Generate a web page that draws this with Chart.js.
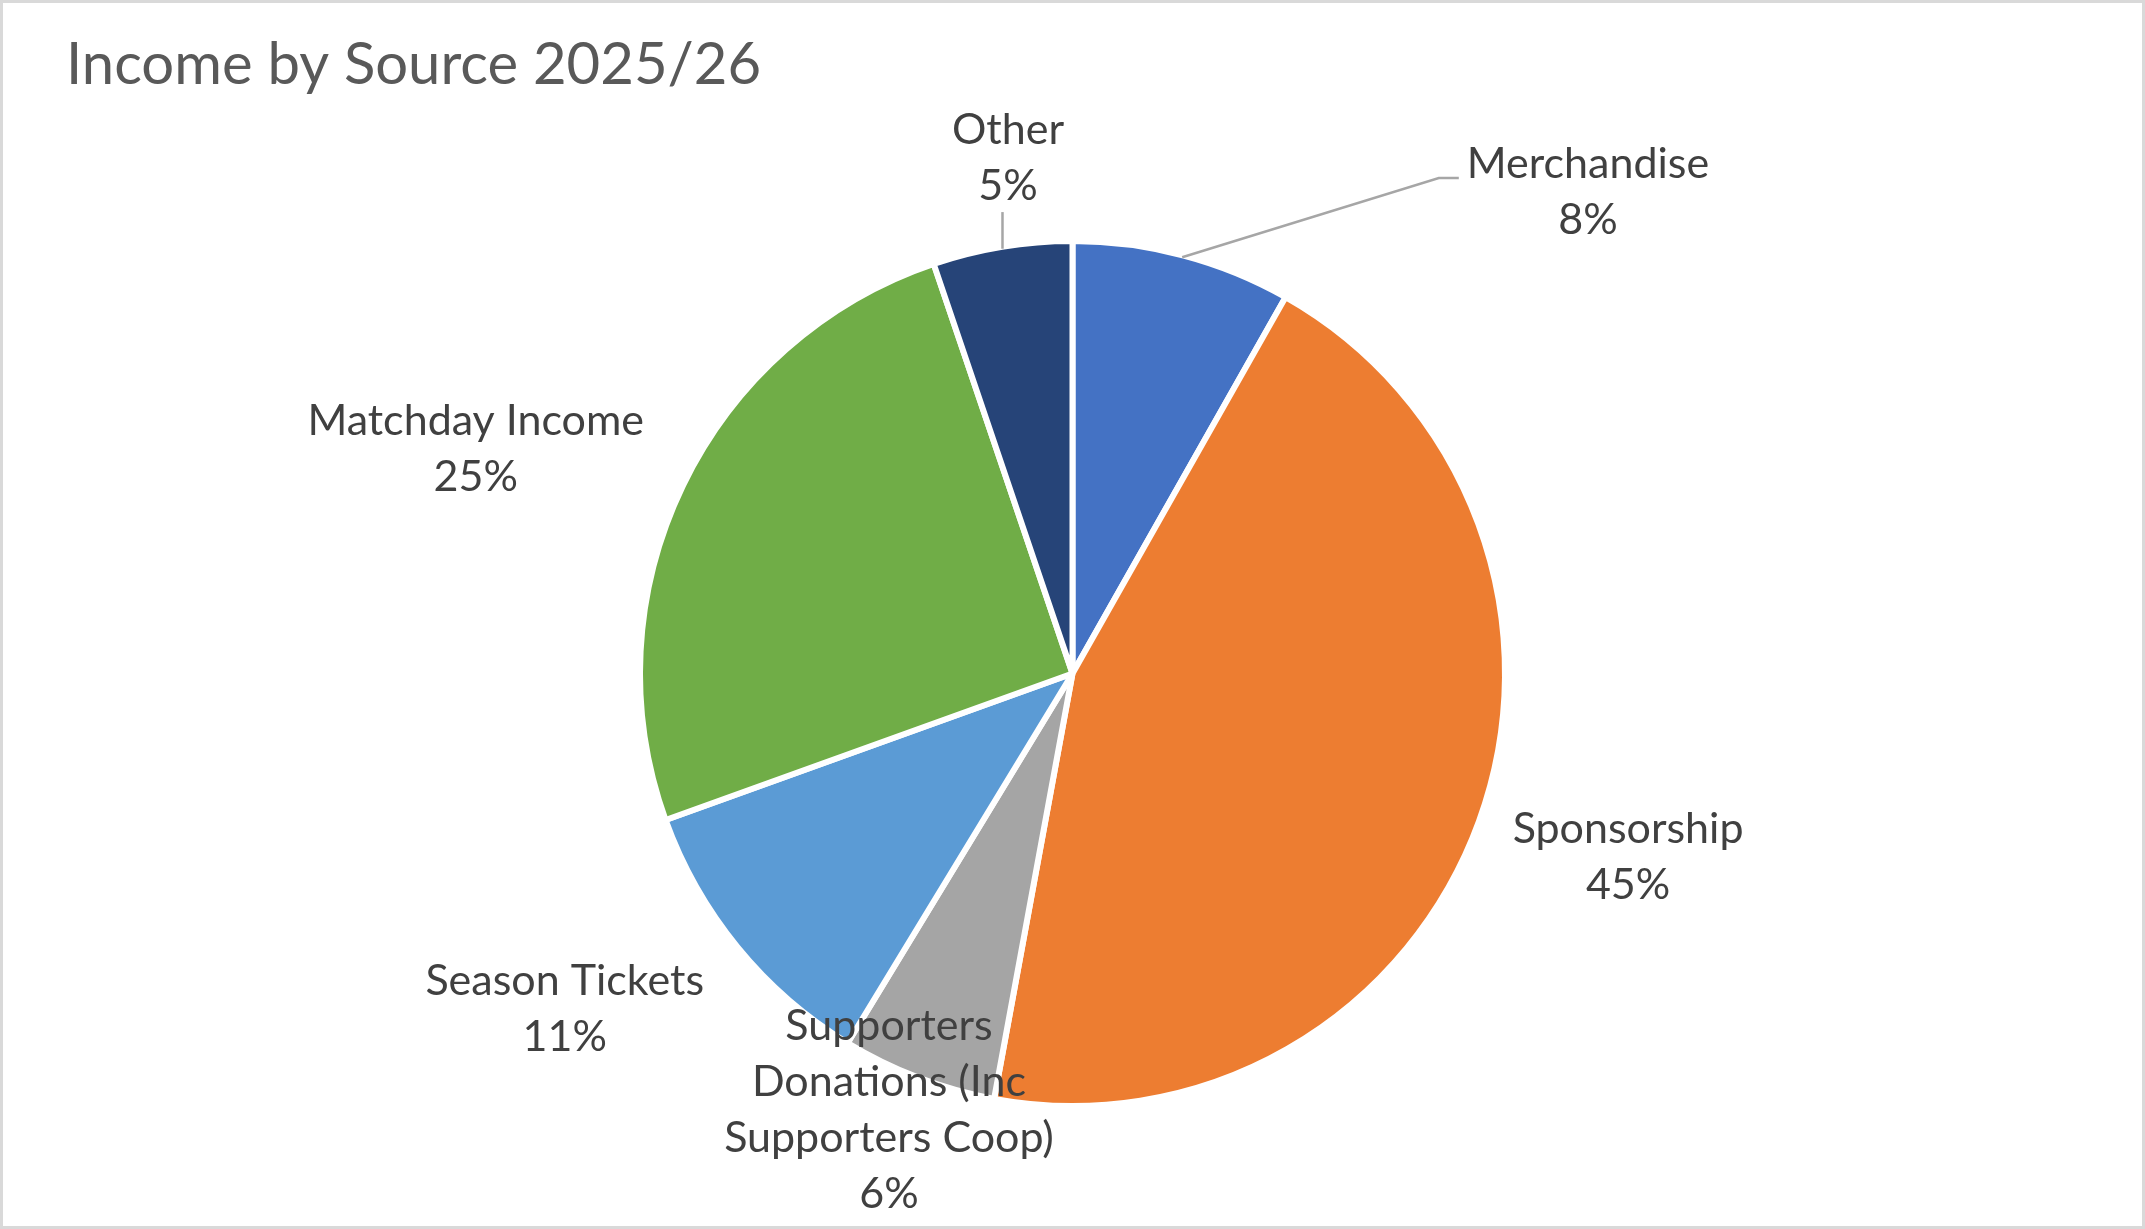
<!DOCTYPE html>
<html>
<head>
<meta charset="utf-8">
<script src="https://cdn.jsdelivr.net/npm/chart.js@4.4.1/dist/chart.umd.min.js"></script>
<style>
  html, body { margin: 0; padding: 0; background: #fff; }
  #wrap { position: relative; width: 2145px; height: 1229px; }
</style>
</head>
<body>
<div id="wrap"><canvas id="pie"></canvas></div>
<script>
// Datos
const titulo = 'Income by Source 2025/26';
const categorias = ['Merchandise', 'Sponsorship', 'Supporters Donations (Inc Supporters Coop)', 'Season Tickets', 'Matchday Income', 'Other'];
const valores = [8.2, 44.7, 5.8, 10.8, 25.3, 5.2];
const colores = ['#4472C4', '#ED7D31', '#A5A5A5', '#5B9BD5', '#70AD47', '#264478'];

// Colocación de etiquetas: ángulo (grados, desde arriba, horario) y distancia en radios
const posEtiquetas = [
    { angle: 46.95, dist: 1.631, leader: 'elbow' },
    { angle: 108.3, dist: 1.353 },
    { angle: 202.8, dist: 1.095 },
    { angle: 236.5, dist: 1.408 },
    { angle: 290.6, dist: 1.474 },
    { angle: -7.13, dist: 1.201, leader: 'down' }
];

const FUENTE = 'Lato, "Open Sans", sans-serif';

function partirTexto(ctx, texto, maxAncho) {
    const palabras = texto.split(' ');
    const lineas = [];
    let actual = '';
    palabras.forEach(p => {
        const prueba = actual ? actual + ' ' + p : p;
        if (actual && ctx.measureText(prueba).width > maxAncho) {
            lineas.push(actual);
            actual = p;
        } else {
            actual = prueba;
        }
    });
    if (actual) lineas.push(actual);
    return lineas;
}

const etiquetasPlugin = {
    id: 'etiquetas',
    afterDraw(chart, args, opts) {
        const ctx = chart.ctx;
        const meta = chart.getDatasetMeta(0);
        const total = valores.reduce((a, b) => a + b, 0);

        ctx.save();
        // marco gris del gráfico
        ctx.strokeStyle = '#D9D9D9';
        ctx.lineWidth = 3;
        ctx.strokeRect(1.5, 1.5, chart.width - 3, chart.height - 3);

        // título
        ctx.fillStyle = '#595959';
        ctx.font = '58px ' + FUENTE;
        ctx.textAlign = 'left';
        ctx.textBaseline = 'alphabetic';
        ctx.fillText(titulo, 66, 84);

        ctx.font = '43px ' + FUENTE;
        const altoLinea = 56;
        meta.data.forEach((arc, i) => {
            const { x, y, startAngle, endAngle, outerRadius } = arc.getProps(['x', 'y', 'startAngle', 'endAngle', 'outerRadius'], true);
            const p = posEtiquetas[i];
            const a = p.angle * Math.PI / 180;
            const cx = x + Math.sin(a) * outerRadius * p.dist;
            const cy = y - Math.cos(a) * outerRadius * p.dist;

            const pct = Math.round(valores[i] / total * 100) + '%';
            const lineas = partirTexto(ctx, categorias[i], 360).concat([pct]);
            const anchoMax = Math.max(...lineas.map(l => ctx.measureText(l).width));
            const alto = lineas.length * altoLinea;

            // líneas guía
            if (p.leader) {
                const mid = (startAngle + endAngle) / 2;
                const sx = x + Math.cos(mid) * (outerRadius - 2);
                const sy = y + Math.sin(mid) * (outerRadius - 2);
                ctx.strokeStyle = '#A6A6A6';
                ctx.lineWidth = 2.5;
                ctx.beginPath();
                ctx.moveTo(sx, sy);
                if (p.leader === 'down') {
                    ctx.lineTo(sx, cy + alto / 2 - 2);
                } else {
                    const izq = cx - anchoMax / 2;
                    const ly = cy - altoLinea / 2 + 14;
                    ctx.lineTo(izq - 28, ly);
                    ctx.lineTo(izq - 8, ly);
                }
                ctx.stroke();
            }

            ctx.fillStyle = '#404040';
            ctx.textAlign = 'center';
            ctx.textBaseline = 'middle';
            lineas.forEach((l, k) => {
                ctx.fillText(l, cx, cy + (k - (lineas.length - 1) / 2) * altoLinea);
            });
        });
        ctx.restore();
    }
};

new Chart(document.getElementById('pie'), {
    type: 'pie',
    data: {
        labels: categorias,
        datasets: [{
            data: valores,
            backgroundColor: colores,
            borderColor: '#FFFFFF',
            borderWidth: 6,
            radius: 432.5
        }]
    },
    options: {
        responsive: true,
        maintainAspectRatio: false,
        animation: false,
        devicePixelRatio: 1,
        layout: { padding: { top: 140, bottom: 22, left: 100, right: 100 } },
        plugins: {
            legend: { display: false },
            tooltip: { enabled: false },
            title: { display: false }
        }
    },
    plugins: [etiquetasPlugin]
});
</script>
</body>
</html>
